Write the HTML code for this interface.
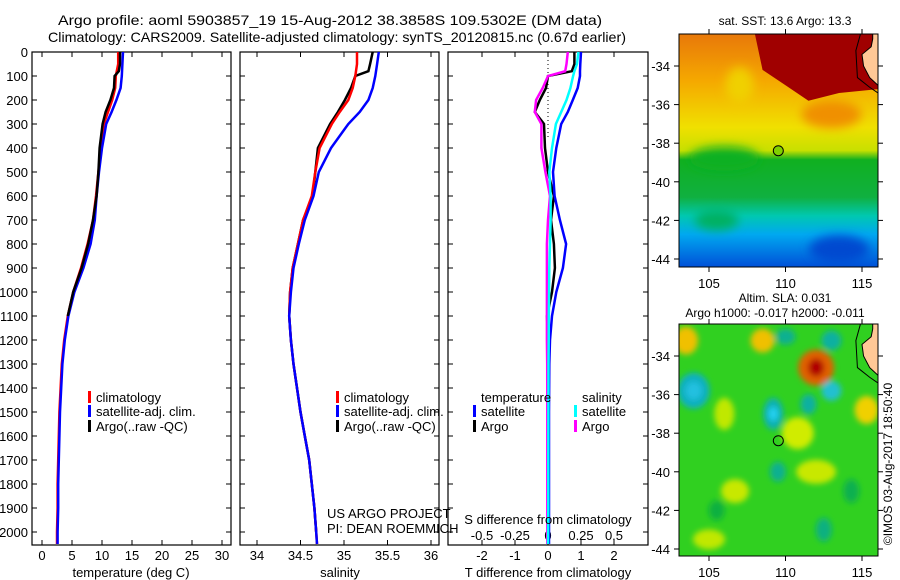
<!DOCTYPE html>
<html><head><meta charset="utf-8">
<style>
body{margin:0;background:#fff;}
svg{display:block;font-family:"Liberation Sans",sans-serif;}
</style></head>
<body>
<svg id="c" width="900" height="580" viewBox="0 0 900 580">
<defs>
<filter id="bl" x="-50%" y="-50%" width="200%" height="200%"><feGaussianBlur stdDeviation="5"/></filter>
<filter id="bl2" x="-50%" y="-50%" width="200%" height="200%"><feGaussianBlur stdDeviation="3"/></filter>
<linearGradient id="sstg" x1="0" y1="0" x2="0" y2="1">
<stop offset="0" stop-color="#e8780a"/><stop offset="0.2" stop-color="#f5a800"/><stop offset="0.4" stop-color="#f0e000"/><stop offset="0.5" stop-color="#c8e000"/><stop offset="0.54" stop-color="#10b020"/><stop offset="0.7" stop-color="#10b040"/><stop offset="0.78" stop-color="#00c8b0"/><stop offset="0.86" stop-color="#00a8f0"/><stop offset="1" stop-color="#0050d8"/>
</linearGradient>
<clipPath id="cm1"><rect x="679" y="34" width="199" height="233"/></clipPath>
<clipPath id="cm2"><rect x="679" y="324" width="199" height="232"/></clipPath>
</defs>
<g font-size="14" fill="#000">
<text x="58" y="25" textLength="544" lengthAdjust="spacingAndGlyphs">Argo profile: aoml 5903857_19 15-Aug-2012 38.3858S 109.5302E (DM data)</text>
<text x="48" y="42" textLength="578" lengthAdjust="spacingAndGlyphs">Climatology: CARS2009. Satellite-adjusted climatology: synTS_20120815.nc (0.67d earlier)</text>
</g>
<g id="plots"></g>
<g id="maps"></g>
</svg>
<script>
// ---- data ----
const depths = [0,50,100,150,200,250,300,400,500,600,700,800,900,1000,1100,1200,1300,1400,1500,1600,1700,1800,1900,2000,2050];
const tempClim = [12.7,12.7,12.3,12.2,11.7,11.0,10.3,9.8,9.4,9.0,8.5,7.6,6.5,5.2,4.3,3.7,3.3,3.1,2.9,2.8,2.7,2.6,2.6,2.5,2.5];
const tempSat  = [13.5,13.4,13.3,13.1,12.4,11.6,10.7,10.0,9.5,9.1,8.8,8.1,6.9,5.4,4.4,3.8,3.4,3.2,3.0,2.9,2.8,2.7,2.7,2.6,2.6];
const argoDepths = [0,50,80,100,150,200,250,300,400,500,600,700,800,900,1000,1100,1200,1300,1400,1500,1600,1700,1800,1900,2000];
const tempArgo = [13.0,13.0,12.8,12.1,12.0,11.4,10.6,10.1,9.6,9.4,9.1,8.5,7.7,6.6,5.2,4.3,3.7,3.3,3.1,2.9,2.8,2.7,2.6,2.6,2.5];
const salClim = [35.15,35.15,35.13,35.1,35.05,34.95,34.86,34.72,34.67,34.63,34.53,34.47,34.41,34.38,34.37,34.39,34.42,34.46,34.5,34.55,34.6,34.63,34.66,34.68,34.69];
const salSat  = [35.4,35.38,35.36,35.33,35.28,35.18,35.05,34.85,34.71,34.65,34.55,34.48,34.42,34.39,34.37,34.39,34.42,34.46,34.5,34.55,34.6,34.63,34.66,34.68,34.69];
const salArgo = [35.33,35.3,35.28,35.13,35.08,35.01,34.93,34.84,34.7,34.67,34.64,34.53,34.47,34.41,34.38,34.37,34.39,34.42,34.46,34.5,34.55,34.6,34.63,34.66,34.68];
const diffDepths = [0,50,80,100,150,200,250,300,400,500,600,700,800,900,1000,1100,1200,1300,1500,1700,1900,2050];
const dTsat  = [1.0,0.98,0.97,0.97,0.9,0.75,0.6,0.4,0.25,0.15,0.2,0.36,0.55,0.45,0.25,0.12,0.06,0.04,0.03,0.03,0.03,0.03];
const dTargo = [0.8,0.8,0.72,0.0,-0.06,-0.25,-0.4,-0.12,-0.09,0.0,0.18,0.09,0.18,0.21,0.12,-0.03,0.0,0.0,0.0,0.0,0.0,0.0];
const dSsat  = [0.23,0.22,0.2,0.19,0.17,0.14,0.1,0.06,0.03,0.01,0.02,0.02,0.015,0.01,0.008,0.006,0.005,0.004,0.003,0.002,0.002,0.0];
const dSargo = [0.15,0.14,0.13,0.0,-0.04,-0.09,-0.1,-0.05,-0.05,-0.02,0.015,0.0,-0.008,-0.008,-0.008,-0.008,-0.008,-0.006,-0.005,-0.005,-0.005,-0.005];
const depthTicks = [0,100,200,300,400,500,600,700,800,900,1000,1100,1200,1300,1400,1500,1600,1700,1800,1900,2000];
const tempTicks = [0,5,10,15,20,25,30];
const salTicks = [34,34.5,35,35.5,36];
const dTTicks = [-2,-1,0,1,2];
const dSTicks = [-0.5,-0.25,0,0.25,0.5];
const dSTickLabels = ['-0.5','-0.25','0','0.25','0.5'];
const latTicks = [-34,-36,-38,-40,-42,-44];
const lonTicks = [105,110,115];

// ---- axes ----
const yD = d => 52 + 0.24*d;
const xT = t => 42 + 6*t;
const xS = s => 257 + 87*(s-34);
const xDT = t => 548 + 33*t;
const xDS = s => 548 + 132*s;
const NS = 'http://www.w3.org/2000/svg';
const plots = document.getElementById('plots');
function mk(tag, attrs, parent, text){
  const e = document.createElementNS(NS, tag);
  for (const k in attrs) e.setAttribute(k, attrs[k]);
  if (text !== undefined) e.textContent = text;
  (parent||plots).appendChild(e);
  return e;
}
function line(xs, ys, color, name, parent){
  const pts = xs.map((x,i)=>x.toFixed(1)+','+ys[i].toFixed(1)).join(' ');
  const p = mk('polyline', {points:pts, fill:'none', stroke:color, 'stroke-width':2.5, 'stroke-linejoin':'miter'}, parent);
  
  
  return p;
}
const panels = [[32,231],[240,439],[448,648]];
panels.forEach((p,i)=>{
  const r = mk('rect',{x:p[0],y:52,width:p[1]-p[0],height:493,fill:'none',stroke:'#000','stroke-width':1.2});
  
  
  depthTicks.forEach(d=>{
    mk('line',{x1:p[0],x2:p[0]+5,y1:yD(d),y2:yD(d),stroke:'#000'});
    mk('line',{x1:p[1]-5,x2:p[1],y1:yD(d),y2:yD(d),stroke:'#000'});
  });
});
depthTicks.forEach(d=>{
  const t = mk('text',{x:28,y:yD(d)+5,'font-size':13,'text-anchor':'end'},plots,String(d));
  
  
});
tempTicks.forEach(v=>{
  mk('line',{x1:xT(v),x2:xT(v),y1:540,y2:545,stroke:'#000'});
  mk('line',{x1:xT(v),x2:xT(v),y1:52,y2:57,stroke:'#000'});
  const t = mk('text',{x:xT(v),y:560,'font-size':13,'text-anchor':'middle'},plots,String(v));
  
  
});
salTicks.forEach(v=>{
  mk('line',{x1:xS(v),x2:xS(v),y1:540,y2:545,stroke:'#000'});
  mk('line',{x1:xS(v),x2:xS(v),y1:52,y2:57,stroke:'#000'});
  const t = mk('text',{x:xS(v),y:560,'font-size':13,'text-anchor':'middle'},plots,String(v));
  
  
});
dTTicks.forEach(v=>{
  mk('line',{x1:xDT(v),x2:xDT(v),y1:540,y2:545,stroke:'#000'});
  mk('line',{x1:xDT(v),x2:xDT(v),y1:52,y2:57,stroke:'#000'});
  const t = mk('text',{x:xDT(v),y:560,'font-size':13,'text-anchor':'middle'},plots,String(v));
  
  
});
dSTicks.forEach((v,i)=>{
  const t = mk('text',{x:xDS(v),y:540,'font-size':13,'text-anchor':'middle'},plots,dSTickLabels[i]);
  
  
});
mk('line',{x1:xDT(0),x2:xDT(0),y1:52,y2:140,stroke:'#000','stroke-dasharray':'1,3'});

// series
const yAll = depths.map(yD), yArgo = argoDepths.map(yD), yDiff = diffDepths.map(yD);
line(tempClim.map(xT), yAll, '#f00', 'temperature-climatology-line');
line(tempSat.map(xT), yAll, '#00f', 'temperature-satellite-line');
line(tempArgo.slice(0,16).map(xT), yArgo.slice(0,16), '#000', 'temperature-argo-line');
line(salArgo.map(xS), yArgo, '#000', 'salinity-argo-line');
line(salClim.map(xS), yAll, '#f00', 'salinity-climatology-line');
line(salSat.map(xS), yAll, '#00f', 'salinity-satellite-line');
line(dTargo.map(xDT), yDiff, '#000', 't-diff-argo-line');
line(dSargo.map(xDS), yDiff, '#f0f', 's-diff-argo-line');
line(dTsat.map(xDT), yDiff, '#00f', 't-diff-satellite-line');
line(dSsat.map(xDS), yDiff, '#0ff', 's-diff-satellite-line');

// legends
function leg(x, y, color, label, name){
  const g = mk('g',{});
  
  
  mk('rect',{x:x,y:y-11,width:3,height:12,fill:color},g);
  mk('text',{x:x+8,y:y,'font-size':13},g,label);
}
leg(88,402,'#f00','climatology','legend-climatology');
leg(88,416,'#00f','satellite-adj. clim.','legend-satellite-adj');
leg(88,431,'#000','Argo(..raw -QC)','legend-argo');
leg(336,402,'#f00','climatology','legend-climatology-2');
leg(336,416,'#00f','satellite-adj. clim.','legend-satellite-adj-2');
leg(336,431,'#000','Argo(..raw -QC)','legend-argo-2');
mk('text',{x:481,y:402,'font-size':13},plots,'temperature');
mk('text',{x:582,y:402,'font-size':13},plots,'salinity');
leg(473,416,'#00f','satellite','legend-t-satellite');
leg(473,431,'#000','Argo','legend-t-argo');
leg(574,416,'#0ff','satellite','legend-s-satellite');
leg(574,431,'#f0f','Argo','legend-s-argo');
mk('text',{x:327,y:518,'font-size':13},plots,'US ARGO PROJECT');
mk('text',{x:327,y:533,'font-size':13},plots,'PI: DEAN ROEMMICH');
mk('text',{x:548,y:524,'font-size':13,'text-anchor':'middle'},plots,'S difference from climatology');
mk('text',{x:131,y:577,'font-size':13,'text-anchor':'middle'},plots,'temperature (deg C)');
mk('text',{x:340,y:577,'font-size':13,'text-anchor':'middle'},plots,'salinity');
mk('text',{x:548,y:577,'font-size':13,'text-anchor':'middle'},plots,'T difference from climatology');

// ---- maps ----
const maps = document.getElementById('maps');
const lonX = l => 709 + (l-105)*15.3;
const latY1 = la => 66 + (-34-la)*19.3;
const latY2 = la => 356 + (-34-la)*19.3;
function mapGroup(name){
  const g = mk('g',{},maps);
  
  
  return g;
}
function coast(parent, latY, top){
  const land = `M${lonX(115.7)},${top} L878,${top} L878,${latY(-35)} L${lonX(115.5)},${latY(-34.6)} L${lonX(115.1)},${latY(-34.0)} L${lonX(115.0)},${latY(-33.4)} L${lonX(115.6)},${latY(-33.0)} L${lonX(115.7)},${latY(-32.6)} Z`;
  mk('path',{d:land,fill:'#ffc896',stroke:'#000'},parent);
  mk('polyline',{points:`${lonX(114.9)},${top} ${lonX(114.6)},${latY(-33.2)} ${lonX(114.7)},${latY(-34.6)} ${lonX(115.5)},${latY(-35.1)} 878,${latY(-35.4)}`,fill:'none',stroke:'#000'},parent);
}
// map 1 SST
const m1 = mapGroup('sst-map');
const c1 = mk('g',{'clip-path':'url(#cm1)'},m1);
mk('rect',{x:679,y:34,width:199,height:233,fill:'url(#sstg)'},c1);
const b1 = mk('g',{filter:'url(#bl)'},c1);
mk('ellipse',{cx:lonX(106),cy:latY1(-38.8),rx:35,ry:12,fill:'#10b020'},b1);
mk('ellipse',{cx:lonX(113),cy:latY1(-36.5),rx:30,ry:14,fill:'#f09000'},b1);
mk('ellipse',{cx:lonX(107),cy:latY1(-35),rx:14,ry:18,fill:'#f0d000'},b1);
mk('ellipse',{cx:lonX(105.5),cy:latY1(-42),rx:22,ry:10,fill:'#00b060'},b1);
mk('ellipse',{cx:lonX(113.5),cy:latY1(-43.5),rx:30,ry:14,fill:'#0048d0'},b1);
mk('path',{d:`M${lonX(108)},34 L878,34 L878,${latY1(-35.2)} L${lonX(113.5)},${latY1(-35.4)} L${lonX(111.5)},${latY1(-35.8)} L${lonX(110)},${latY1(-35)} L${lonX(108.5)},${latY1(-34.2)} Z`,fill:'#a00000'},c1);
coast(c1, latY1, 34);
mk('circle',{cx:lonX(109.53),cy:latY1(-38.39),r:5,fill:'#80d000',stroke:'#000'},c1);
mk('rect',{x:679,y:34,width:199,height:233,fill:'none',stroke:'#000'},m1);
// map 2 SLA
const m2 = mapGroup('sla-map');
const c2 = mk('g',{'clip-path':'url(#cm2)'},m2);
mk('rect',{x:679,y:324,width:199,height:232,fill:'#30d020'},c2);
const b2 = mk('g',{filter:'url(#bl2)'},c2);
const blobs = [[103.5,-33.2,12,14,'#f0c000'],[108.5,-33.2,12,12,'#f0c000'],[112,-34.6,18,18,'#e06000'],[112,-34.6,8,9,'#b00000'],[104,-35.8,16,18,'#10b0c0'],[104,-35.8,8,9,'#20c0e0'],[109.2,-37,10,16,'#10b0b0'],[109.2,-37,5,7,'#20d0f0'],[113,-35.8,10,10,'#20c0d0'],[110,-33,10,8,'#10b090'],[113,-33.2,10,10,'#10b0a0'],[115.3,-36.8,12,14,'#f0d000'],[106,-37,10,16,'#c0e800'],[110.8,-38,16,16,'#d0ec00'],[112,-40,20,12,'#c8e800'],[106.7,-41,14,12,'#c8e800'],[105,-43.5,16,10,'#c0e800'],[109.5,-40,8,10,'#10b090'],[111.5,-36.5,8,10,'#10b0a0'],[105.5,-42,8,10,'#10b040'],[112.5,-43,8,12,'#10b080'],[114.3,-41,8,12,'#10b050']];
blobs.forEach(b=>{
  mk('ellipse',{cx:lonX(b[0]),cy:latY2(b[1]),rx:b[2],ry:b[3],fill:b[4]},b2);
});
coast(c2, latY2, 324);
mk('circle',{cx:lonX(109.53),cy:latY2(-38.39),r:5,fill:'none',stroke:'#000'},c2);
mk('rect',{x:679,y:324,width:199,height:232,fill:'none',stroke:'#000'},m2);
[[latY1,34,267,m1],[latY2,324,556,m2]].forEach(m=>{
  latTicks.forEach(la=>{
    mk('line',{x1:674,x2:679,y1:m[0](la),y2:m[0](la),stroke:'#000'},m[3]);
    mk('line',{x1:878,x2:883,y1:m[0](la),y2:m[0](la),stroke:'#000'},m[3]);
    mk('text',{x:670,y:m[0](la)+5,'font-size':13,'text-anchor':'end'},m[3],String(la));
  });
  lonTicks.forEach(lo=>{
    mk('line',{x1:lonX(lo),x2:lonX(lo),y1:m[1]-5,y2:m[1],stroke:'#000'},m[3]);
    mk('line',{x1:lonX(lo),x2:lonX(lo),y1:m[2],y2:m[2]+5,stroke:'#000'},m[3]);
    mk('text',{x:lonX(lo),y:m[2]+21,'font-size':13,'text-anchor':'middle'},m[3],String(lo));
  });
});
mk('text',{x:785,y:25,'font-size':12,'text-anchor':'middle'},maps,'sat. SST: 13.6 Argo: 13.3');
mk('text',{x:785,y:302,'font-size':12,'text-anchor':'middle'},maps,'Altim. SLA: 0.031');
mk('text',{x:775,y:317,'font-size':12,'text-anchor':'middle'},maps,'Argo h1000: -0.017 h2000: -0.011');
mk('text',{x:0,y:0,'font-size':12,'text-anchor':'middle',transform:'translate(892,464) rotate(-90)'},maps,'©IMOS 03-Aug-2017 18:50:40');
</script>
</body></html>
